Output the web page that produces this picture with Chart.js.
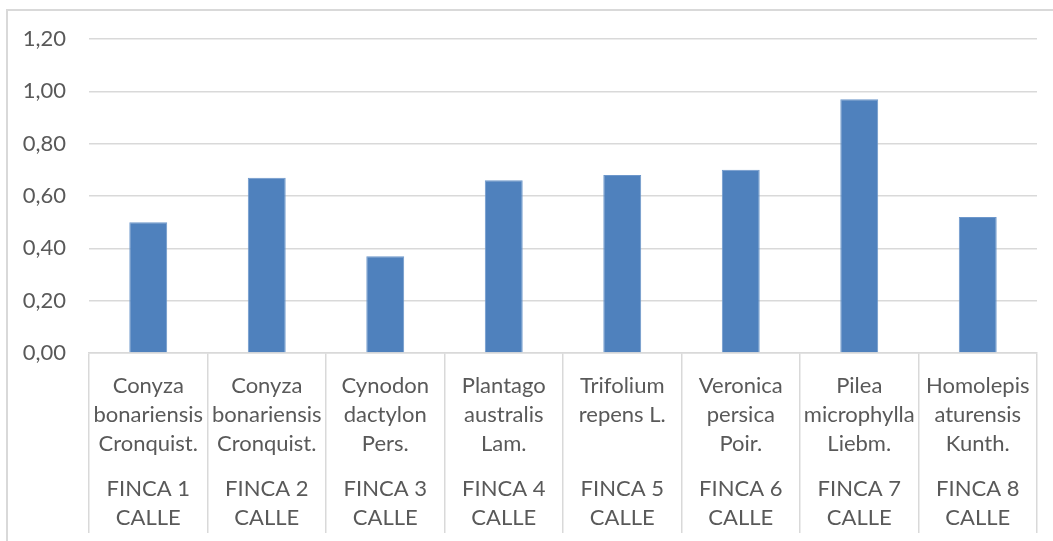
<!DOCTYPE html>
<html>
<head>
<meta charset="utf-8">
<script src="https://cdn.jsdelivr.net/npm/chart.js@4.4.0/dist/chart.umd.min.js"></script>
<style>
  html, body { margin: 0; padding: 0; background: #fff; overflow: hidden; }
  #wrap { position: relative; width: 1053px; height: 541px; }
  #frame {
    position: absolute; left: 6px; top: 9px; width: 1100px; height: 600px;
    border: 2px solid #d9d9d9; box-sizing: border-box;
  }
  #barChart { position: absolute; left: 0; top: 0; }
</style>
</head>
<body>
<div id="wrap">
  <div id="frame"></div>
  <canvas id="barChart" width="1053" height="541"></canvas>
</div>
<script>
// ======================= DATA =======================
const species = [
  ["Conyza", "bonariensis", "Cronquist."],
  ["Conyza", "bonariensis", "Cronquist."],
  ["Cynodon", "dactylon", "Pers."],
  ["Plantago", "australis", "Lam."],
  ["Trifolium", "repens L.", ""],
  ["Veronica", "persica", "Poir."],
  ["Pilea", "microphylla", "Liebm."],
  ["Homolepis", "aturensis", "Kunth."],
];
const fincas = [
  ["FINCA 1", "CALLE"],
  ["FINCA 2", "CALLE"],
  ["FINCA 3", "CALLE"],
  ["FINCA 4", "CALLE"],
  ["FINCA 5", "CALLE"],
  ["FINCA 6", "CALLE"],
  ["FINCA 7", "CALLE"],
  ["FINCA 8", "CALLE"],
];
const values = [0.5, 0.67, 0.37, 0.66, 0.68, 0.7, 0.97, 0.52];
const yTicks = { min: 0, max: 1.2, step: 0.2 };

const textColor = "#595959";
const lineColor = "#d9d9d9";
const labelFont = { family: "Lato, 'Open Sans', sans-serif", size: 22, lineHeight: "29px" };

// ======================= BAR CHART =======================
new Chart(document.getElementById("barChart"), {
  type: "bar",
  data: {
    labels: species,
    datasets: [
      {
        data: values,
        backgroundColor: "#4f81bd",
        borderColor: "#6d97cb",
        borderWidth: 1,
        barPercentage: 0.32,
        categoryPercentage: 1,
      },
    ],
  },
  options: {
    responsive: false,
    animation: false,
    layout: {
      padding: { left: 9, right: 16, top: 39, bottom: 9 },
    },
    plugins: {
      legend: { display: false },
      tooltip: { enabled: false },
    },
    scales: {
      y: {
        min: yTicks.min,
        max: yTicks.max,
        afterFit: (scale) => { scale.width = 80; },
        border: { display: false },
        grid: { color: lineColor, lineWidth: 1.5, drawTicks: false },
        ticks: {
          stepSize: yTicks.step,
          padding: 23,
          color: textColor,
          font: labelFont,
          callback: (value) => value.toFixed(2).replace(".", ","),
        },
      },
      // species row; its long tick marks form the cell dividers below the axis
      x: {
        offset: true,
        weight: 0,
        afterFit: (scale) => { scale.height = 104; },
        border: { color: lineColor, width: 1.5 },
        grid: {
          offset: true,
          drawOnChartArea: false,
          color: lineColor,
          lineWidth: 1.5,
          tickLength: 180,
        },
        ticks: {
          padding: -162,
          color: textColor,
          font: labelFont,
          maxRotation: 0,
          autoSkip: false,
        },
      },
      // site row
      x2: {
        type: "category",
        position: "bottom",
        labels: fincas,
        offset: true,
        weight: 1,
        afterFit: (scale) => { scale.height = 75; },
        border: { display: false },
        grid: { display: false, drawTicks: false },
        ticks: {
          padding: 17,
          color: textColor,
          font: labelFont,
          maxRotation: 0,
          autoSkip: false,
        },
      },
    },
  },
});
</script>
</body>
</html>
